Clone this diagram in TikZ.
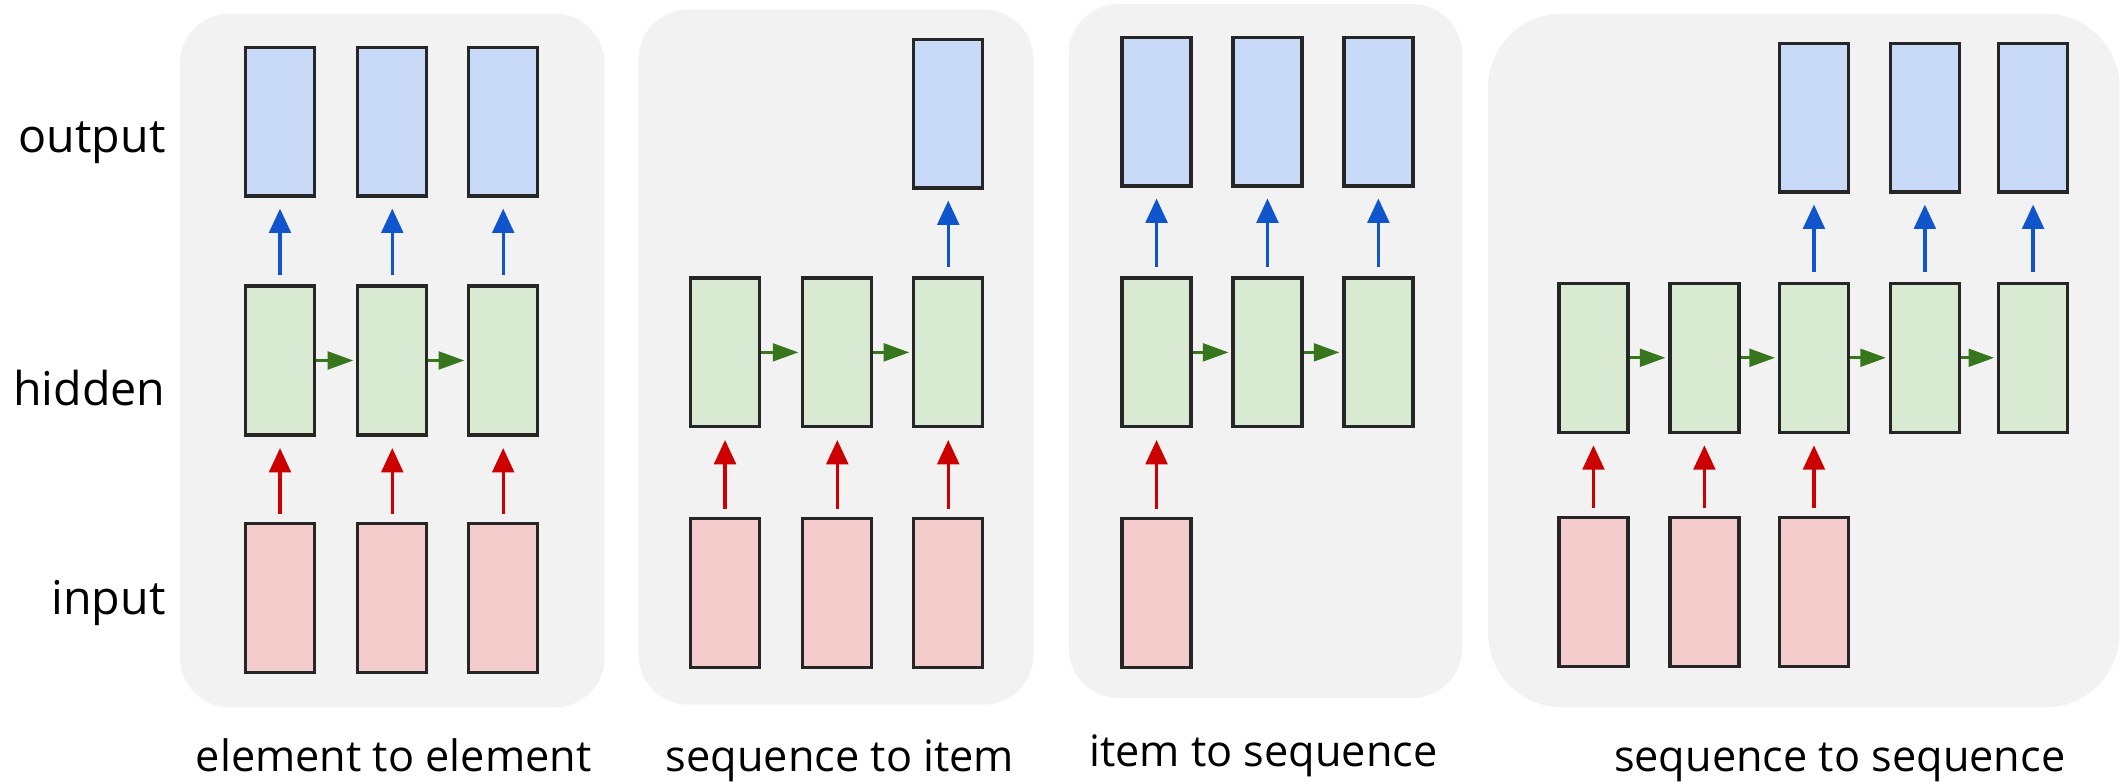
\documentclass[tikz,border=0pt]{standalone}
\usepackage{fontspec}
\setmainfont{Open Sans}
\usepackage{xcolor}
\usetikzlibrary{arrows.meta}

\definecolor{tlo}{HTML}{F2F2F2}
\definecolor{wyj}{HTML}{C9DAF8}
\definecolor{ukr}{HTML}{D9EAD3}
\definecolor{wej}{HTML}{F4CCCC}
\definecolor{strn}{HTML}{1155CC}
\definecolor{strz}{HTML}{38761D}
\definecolor{strc}{HTML}{CC0000}

\begin{document}
\begin{tikzpicture}[
  font=\fontsize{9.8}{12}\selectfont,
  blk/.style={draw=black!85, line width=0.7pt, minimum width=0.51cm, minimum height=1.1cm, inner sep=0},
  wyjb/.style={blk, fill=wyj},
  ukrb/.style={blk, fill=ukr},
  wejb/.style={blk, fill=wej},
  pan/.style={fill=tlo, rounded corners=0.37cm},
  opis/.style={anchor=base east, inner sep=0},
  podpis/.style={font=\fontsize{9.1}{11}\selectfont, anchor=base, inner sep=0},
  sn/.style={-{Triangle[width=0.16cm,length=0.18cm]}, strn, line width=0.7pt, shorten <=0.07cm, shorten >=0.08cm},
  sc/.style={-{Triangle[width=0.16cm,length=0.18cm]}, strc, line width=0.7pt, shorten <=0.06cm, shorten >=0.085cm},
  sz/.style={-{Triangle[width=0.13cm,length=0.19cm]}, strz, line width=0.7pt, shorten >=0.02cm},
]
\useasboundingbox (0,0) rectangle (15.68,-5.78);
% Opisy warstw
\node[opis] (lwyj) at (1.23,-1.13) {output};
\node[opis] (lukr) at (1.23,-3.00) {hidden};
\node[opis] (lwej) at (1.23,-4.54) {input};
% Element do elementu
\fill[pan] (1.33,-0.10) rectangle (4.47,-5.23);
\node[wyjb] (ao1) at (2.07,-0.90) {};
\node[wyjb] (ao2) at (2.90,-0.90) {};
\node[wyjb] (ao3) at (3.72,-0.90) {};
\node[ukrb] (ah1) at (2.07,-2.665) {};
\node[ukrb] (ah2) at (2.90,-2.665) {};
\node[ukrb] (ah3) at (3.72,-2.665) {};
\node[wejb] (ai1) at (2.07,-4.42) {};
\node[wejb] (ai2) at (2.90,-4.42) {};
\node[wejb] (ai3) at (3.72,-4.42) {};
\path[sn] (ah1) edge (ao1) (ah2) edge (ao2) (ah3) edge (ao3);
\path[sz] (ah1) edge (ah2) (ah2) edge (ah3);
\path[sc] (ai1) edge (ah1) (ai2) edge (ah2) (ai3) edge (ah3);
\node[podpis] (pa) at (2.91,-5.70) {element to element};
% Sekwencja do elementu
\fill[pan] (4.72,-0.07) rectangle (7.64,-5.21);
\node[wyjb] (bo3) at (7.01,-0.84) {};
\node[ukrb] (bh1) at (5.36,-2.605) {};
\node[ukrb] (bh2) at (6.19,-2.605) {};
\node[ukrb] (bh3) at (7.01,-2.605) {};
\node[wejb] (bi1) at (5.36,-4.385) {};
\node[wejb] (bi2) at (6.19,-4.385) {};
\node[wejb] (bi3) at (7.01,-4.385) {};
\path[sn] (bh3) edge (bo3);
\path[sz] (bh1) edge (bh2) (bh2) edge (bh3);
\path[sc] (bi1) edge (bh1) (bi2) edge (bh2) (bi3) edge (bh3);
\node[podpis] (pb) at (6.21,-5.70) {sequence to item};
% Element do sekwencji
\fill[pan] (7.90,-0.03) rectangle (10.81,-5.16);
\node[wyjb] (co1) at (8.55,-0.825) {};
\node[wyjb] (co2) at (9.37,-0.825) {};
\node[wyjb] (co3) at (10.19,-0.825) {};
\node[ukrb] (ch1) at (8.55,-2.605) {};
\node[ukrb] (ch2) at (9.37,-2.605) {};
\node[ukrb] (ch3) at (10.19,-2.605) {};
\node[wejb] (ci1) at (8.55,-4.385) {};
\path[sn] (ch1) edge (co1) (ch2) edge (co2) (ch3) edge (co3);
\path[sz] (ch1) edge (ch2) (ch2) edge (ch3);
\path[sc] (ci1) edge (ch1);
\node[podpis] (pc) at (9.34,-5.67) {item to sequence};
% Sekwencja do sekwencji
\fill[pan, rounded corners=0.55cm] (11.00,-0.10) rectangle (15.67,-5.23);
\node[wyjb] (do3) at (13.41,-0.87) {};
\node[wyjb] (do4) at (14.23,-0.87) {};
\node[wyjb] (do5) at (15.03,-0.87) {};
\node[ukrb] (dh1) at (11.78,-2.645) {};
\node[ukrb] (dh2) at (12.60,-2.645) {};
\node[ukrb] (dh3) at (13.41,-2.645) {};
\node[ukrb] (dh4) at (14.23,-2.645) {};
\node[ukrb] (dh5) at (15.03,-2.645) {};
\node[wejb] (di1) at (11.78,-4.375) {};
\node[wejb] (di2) at (12.60,-4.375) {};
\node[wejb] (di3) at (13.41,-4.375) {};
\path[sn] (dh3) edge (do3) (dh4) edge (do4) (dh5) edge (do5);
\path[sz] (dh1) edge (dh2) (dh2) edge (dh3) (dh3) edge (dh4) (dh4) edge (dh5);
\path[sc] (di1) edge (dh1) (di2) edge (dh2) (di3) edge (dh3);
\node[podpis] (pd) at (13.60,-5.70) {sequence to sequence};
\end{tikzpicture}
\end{document}
